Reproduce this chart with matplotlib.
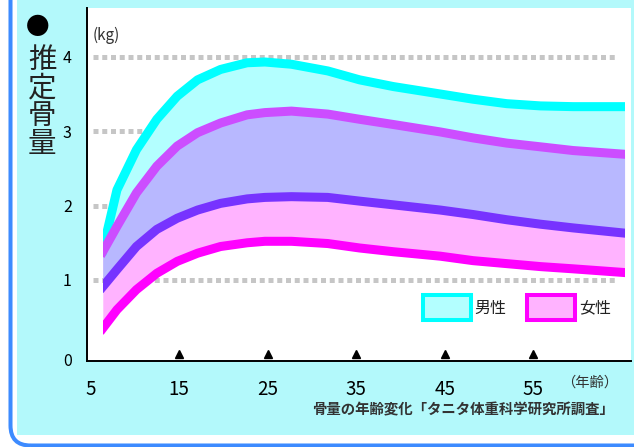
import numpy as np
import matplotlib.pyplot as plt
from matplotlib.patches import Rectangle, FancyBboxPatch
from matplotlib.transforms import IdentityTransform, ScaledTranslation

plt.rcParams['font.family'] = ['Noto Sans CJK JP', 'DejaVu Sans']

# values (age in years, bone mass in kg)
ages = [6.4, 8.0, 10.2, 12.5, 14.8, 17.1, 19.7, 22.7, 24.7, 27.7,
        31.8, 35.4, 39.2, 44.5, 48.2, 52.0, 55.8, 59.5, 65.3]
male_upper = [1.40, 2.21, 2.75, 3.16, 3.47, 3.69, 3.83, 3.92, 3.93, 3.90,
              3.81, 3.69, 3.60, 3.50, 3.43, 3.37, 3.34, 3.33, 3.33]
male_lower = [0.91, 1.14, 1.45, 1.68, 1.83, 1.94, 2.03, 2.09, 2.11, 2.12,
              2.11, 2.06, 2.01, 1.94, 1.88, 1.81, 1.75, 1.70, 1.63]
female_upper = [1.38, 1.72, 2.17, 2.53, 2.80, 2.98, 3.11, 3.22, 3.25, 3.27,
                3.23, 3.16, 3.09, 2.99, 2.91, 2.84, 2.79, 2.74, 2.69]
female_lower = [0.35, 0.60, 0.87, 1.09, 1.25, 1.36, 1.45, 1.50, 1.52, 1.52,
                1.49, 1.43, 1.38, 1.32, 1.26, 1.22, 1.18, 1.15, 1.10]

x_ticks = [5, 15, 25, 35, 45, 55]
marker_ages = [15, 25, 35, 45, 55]
y_ticks = [0, 1, 2, 3, 4]
grid_vals = [1, 2, 3, 4]

W, H = 634, 447
fig = plt.figure(figsize=(W / 100, H / 100), dpi=100)
fig.patch.set_facecolor('white')

# light cyan panel and rounded blue frame (pixel coordinates)
fig.patches.append(Rectangle((17, H - 435), 700, 500, transform=IdentityTransform(),
                             facecolor='#b3f9fb', edgecolor='none', zorder=-3))
fig.patches.append(FancyBboxPatch((10.5, 1.5), 700, 600, transform=IdentityTransform(),
                                  boxstyle='round,pad=0,rounding_size=20',
                                  facecolor='none', edgecolor='#3d8bff', lw=2.9, zorder=-2))

ax = fig.add_axes([87 / W, (H - 361) / H, (631 - 87) / W, (361 - 8) / H])
ax.set_zorder(2)
ax.set_facecolor('white')
ax.set_xlim(4.62, 66.03)
ax.set_ylim(-0.089, 4.656)

for s in ['top', 'right']:
    ax.spines[s].set_visible(False)
for s in ['left', 'bottom']:
    ax.spines[s].set_linewidth(1.4)
    ax.spines[s].set_color('black')

# dotted grid
ax.hlines(grid_vals, 5.3, 64.3, colors='#c6c6c6', lw=3.6,
          linestyles=(0, (1.0, 0.75)), zorder=0.5)

mu = np.array(male_upper)
ml = np.array(male_lower)
fu = np.array(female_upper)
fl = np.array(female_lower)

ax.fill_between(ages, ml, mu, color='#b3ffff', lw=0, zorder=1)
ax.fill_between(ages, fl, fu, color='#ffb3ff', lw=0, zorder=1)
ax.fill_between(ages, np.maximum(ml, fl), np.minimum(mu, fu), color='#b8b8ff', lw=0, zorder=2)

clip = Rectangle((ages[0], -1), ages[-1] - ages[0], 7, transform=ax.transData)
for vals, col in [(mu, '#00ffff'), (fu, '#cc4dff'), (ml, '#7733ff'), (fl, '#ff00ff')]:
    ln, = ax.plot(ages, vals, color=col, lw=6.5, solid_capstyle='projecting',
                  solid_joinstyle='round', zorder=3)
    ln.set_clip_path(clip)

# ticks
ax.set_xticks(x_ticks)
ax.set_xticklabels([str(v) for v in x_ticks], fontsize=13.5)
ax.set_yticks(y_ticks)
ax.set_yticklabels([str(v) for v in y_ticks], fontsize=11.5)
ax.tick_params(axis='x', length=0, pad=13)
ax.tick_params(axis='y', length=0, pad=11)
lab0 = ax.get_yticklabels()[0]
lab0.set_transform(lab0.get_transform() + ScaledTranslation(0, -0.05, fig.dpi_scale_trans))

ax.plot(marker_ages, [0.02] * len(marker_ages), transform=ax.get_xaxis_transform(),
        marker='^', ms=6, color='black', ls='none', clip_on=False, zorder=5)

# texts
ax.text(0.011, 0.9235, '(kg)', transform=ax.transAxes, fontsize=11,
        ha='left', va='center', color='#333333')
ax.text(0.871, -0.0623, '（年齢）', transform=ax.transAxes, fontsize=10.3,
        ha='left', va='center', color='#333333')
ax.text(0.969, -0.139, '骨量の年齢変化「タニタ体重科学研究所調査」', transform=ax.transAxes,
        fontsize=10.4, fontweight='bold', ha='right', va='center', color='#333333')

# legend boxes
for x0, fc, ec, label in [(0.617, '#b3ffff', '#00ffff', '男性'),
                          (0.8088, '#ffb3ff', '#ff00ff', '女性')]:
    ax.add_patch(Rectangle((x0, 0.1153), 0.0882, 0.0725, transform=ax.transAxes,
                           facecolor=fc, edgecolor=ec, lw=2.9, zorder=6))
    ax.text(x0 + 0.0882 + 0.007, 0.150, label, transform=ax.transAxes, fontsize=11.5,
            ha='left', va='center', color='#222222', zorder=6)

# vertical y label
fig.text(38 / W, 1 - 28 / H, '●', fontsize=17, ha='center', va='center')
for ch, py in zip('推定骨量', [60, 88, 116, 144]):
    fig.text(42 / W, 1 - py / H, ch, fontsize=20.5, ha='center', va='center', color='#222222')

fig.savefig('out.png', dpi=100)
